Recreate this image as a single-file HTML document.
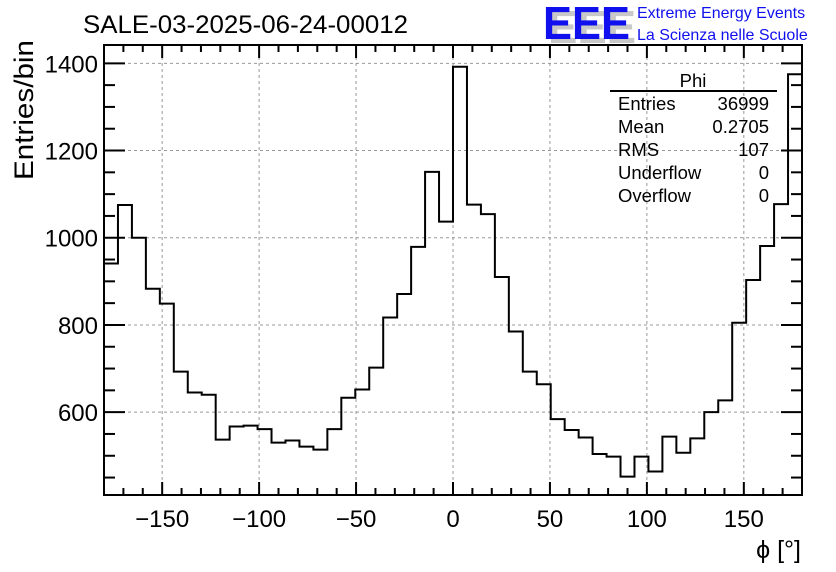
<!DOCTYPE html>
<html><head><meta charset="utf-8"><style>
html,body{margin:0;padding:0;background:#fff;}
svg{display:block;font-family:"Liberation Sans",sans-serif;}
</style></head><body>
<svg id="chart" width="836" height="572" viewBox="0 0 836 572">
<rect width="836" height="572" fill="#fff"/>
<g id="grid"></g>
<g id="axes"></g>
<path id="hist" fill="none" stroke="#000" stroke-width="2"/>
<text x="83" y="33" font-size="25" textLength="325" lengthAdjust="spacingAndGlyphs">SALE-03-2025-06-24-00012</text>
<text transform="translate(33,180) rotate(-90)" font-size="27" textLength="140" lengthAdjust="spacingAndGlyphs">Entries/bin</text>
<text x="801" y="558" font-size="25" text-anchor="end">ϕ [°]</text>
<g>
<text x="548" y="43" font-size="46" fill="#c8c8c8" font-weight="bold" textLength="88" lengthAdjust="spacingAndGlyphs">EEE</text>
<text x="543" y="39" font-size="46" fill="#1010ee" font-weight="bold" textLength="87" lengthAdjust="spacingAndGlyphs">EEE</text>
<text x="637" y="18" font-size="16" fill="#1010ee">Extreme Energy Events</text>
<text x="637" y="40" font-size="16" fill="#1010ee">La Scienza nelle Scuole</text>
</g>
<g font-size="18.5">
<text x="693" y="87" text-anchor="middle">Phi</text>
<line x1="610" y1="91" x2="777" y2="91" stroke="#000" stroke-width="2"/>
<text x="618" y="110">Entries</text><text x="769" y="110" text-anchor="end">36999</text>
<text x="618" y="133">Mean</text><text x="769" y="133" text-anchor="end">0.2705</text>
<text x="618" y="156">RMS</text><text x="769" y="156" text-anchor="end">107</text>
<text x="618" y="179">Underflow</text><text x="769" y="179" text-anchor="end">0</text>
<text x="618" y="202">Overflow</text><text x="769" y="202" text-anchor="end">0</text>
</g>
</svg>
<script>
const counts = [941,1075,1000,883,849,693,645,640,537,567,569,561,530,535,521,514,561,633,652,702,817,871,979,1151,1037,
1392,1076,1054,910,785,693,664,584,559,542,504,498,452,498,464,544,507,540,600,627,805,903,981,1077,1375];
const xRange = [-180, 180];
const yRange = [410, 1442];
const xTicks = [-150,-100,-50,0,50,100,150];
const xTickLabels = ["\u2212150","\u2212100","\u221250","0","50","100","150"];
const yTicks = [600,800,1000,1200,1400];
const yTickLabels = ["600","800","1000","1200","1400"];

const L=104,R=802,T=45,B=495;
const NS="http://www.w3.org/2000/svg";
function xs(v){return L+(v-xRange[0])/(xRange[1]-xRange[0])*(R-L);}
function ys(v){return B-(v-yRange[0])/(yRange[1]-yRange[0])*(B-T);}
function mk(tag,attrs,parent){const e=document.createElementNS(NS,tag);for(const k in attrs)e.setAttribute(k,attrs[k]);parent.appendChild(e);return e;}
const grid=document.getElementById('grid'), axes=document.getElementById('axes');
xTicks.forEach(v=>{const l=mk('line',{x1:xs(v),x2:xs(v),y1:T,y2:B,stroke:'#999','stroke-dasharray':'3,3'},grid);

});
yTicks.forEach(v=>{const l=mk('line',{x1:L,x2:R,y1:ys(v),y2:ys(v),stroke:'#999','stroke-dasharray':'3,3'},grid);

});
const fr=mk('rect',{x:L,y:T,width:R-L,height:B-T,fill:'none',stroke:'#000','stroke-width':2},axes);


for(let v=-180;v<=180;v+=10){const maj=v%50===0;const h=maj?13:7;
mk('line',{x1:xs(v),x2:xs(v),y1:B,y2:B-h,stroke:'#000','stroke-width':2},axes);
mk('line',{x1:xs(v),x2:xs(v),y1:T,y2:T+h,stroke:'#000','stroke-width':2},axes);}
xTicks.forEach((v,i)=>{const t=mk('text',{x:xs(v),y:527,'font-size':24,'text-anchor':'middle'},axes);t.textContent=xTickLabels[i];

});
for(let v=450;v<=1400;v+=50){const maj=v%200===0;const w=maj?21:11;
mk('line',{x1:L,x2:L+w,y1:ys(v),y2:ys(v),stroke:'#000','stroke-width':2},axes);
mk('line',{x1:R,x2:R-w,y1:ys(v),y2:ys(v),stroke:'#000','stroke-width':2},axes);}
yTicks.forEach((v,i)=>{const t=mk('text',{x:98,y:ys(v)+9,'font-size':24,'text-anchor':'end'},axes);t.textContent=yTickLabels[i];

});
const n=counts.length, w=(xRange[1]-xRange[0])/n;
let d='M'+xs(xRange[0])+','+ys(counts[0]);
counts.forEach((c,i)=>{const x0=xRange[0]+i*w;
if(i>0)d+=' L'+xs(x0)+','+ys(c);
d+=' L'+xs(x0+w)+','+ys(c);});
document.getElementById('hist').setAttribute('d',d);
</script>
</body></html>
